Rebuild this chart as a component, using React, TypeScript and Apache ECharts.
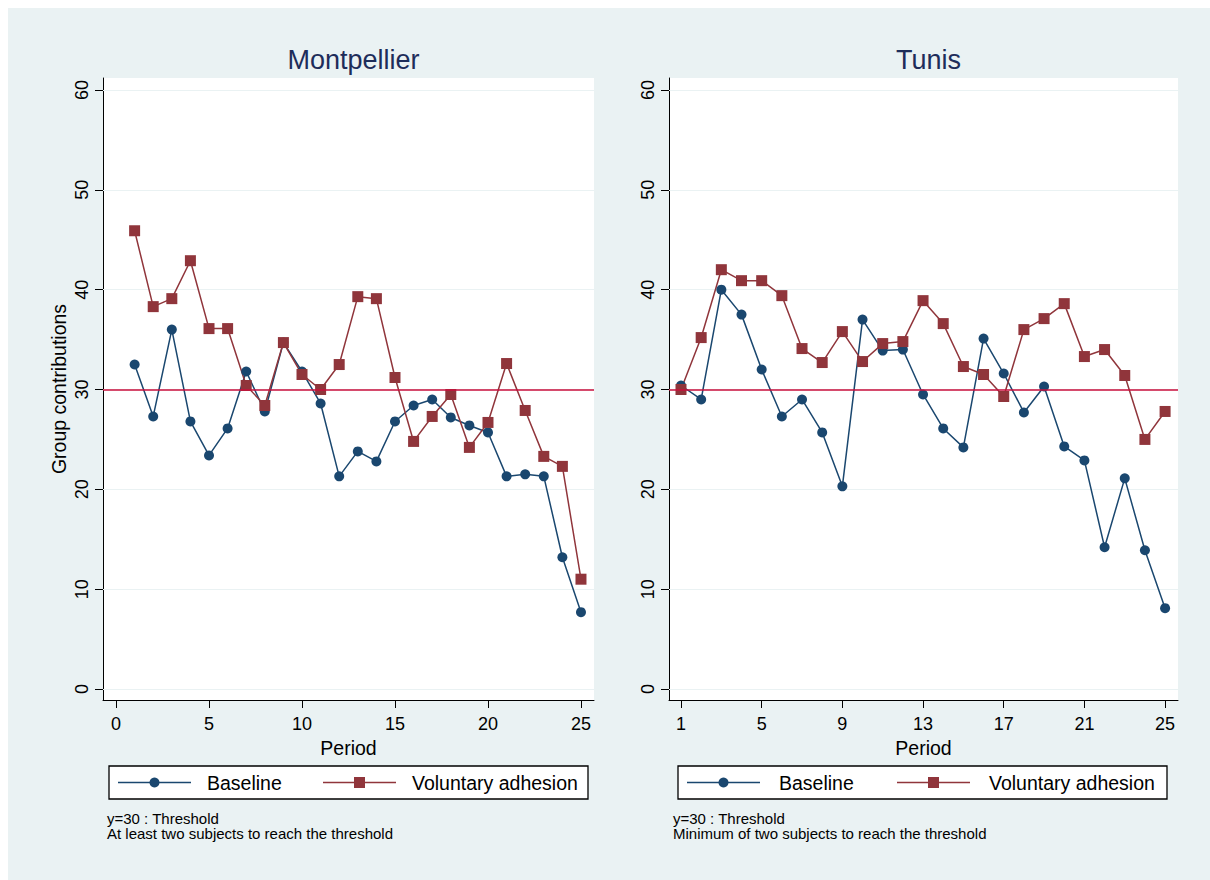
import React, { useEffect, useRef } from "react";
import * as echarts from "echarts";

const periods = [1, 2, 3, 4, 5, 6, 7, 8, 9, 10, 11, 12, 13, 14, 15, 16, 17, 18, 19, 20, 21, 22, 23, 24, 25];
const panelTitles = ["Montpellier", "Tunis"];
const seriesNames = ["Baseline", "Voluntary adhesion"];
const montBaseline = [32.5, 27.3, 36.0, 26.8, 23.4, 26.1, 31.8, 27.8, 34.7, 31.8, 28.6, 21.3, 23.8, 22.8, 26.8, 28.4, 29.0, 27.2, 26.4, 25.7, 21.3, 21.5, 21.3, 13.2, 7.7];
const montVoluntary = [45.9, 38.3, 39.1, 42.9, 36.1, 36.1, 30.4, 28.4, 34.7, 31.5, 30.0, 32.5, 39.3, 39.1, 31.2, 24.8, 27.3, 29.5, 24.2, 26.7, 32.6, 27.9, 23.3, 22.3, 11.0];
const tunisBaseline = [30.4, 29.0, 40.0, 37.5, 32.0, 27.3, 29.0, 25.7, 20.3, 37.0, 33.9, 34.0, 29.5, 26.1, 24.2, 35.1, 31.6, 27.7, 30.3, 24.3, 22.9, 14.2, 21.1, 13.9, 8.1];
const tunisVoluntary = [30.0, 35.2, 42.0, 40.9, 40.9, 39.4, 34.1, 32.7, 35.8, 32.8, 34.6, 34.8, 38.9, 36.6, 32.3, 31.5, 29.3, 36.0, 37.1, 38.6, 33.3, 34.0, 31.4, 25.0, 27.8];
const yTicks = [0, 10, 20, 30, 40, 50, 60];
const xTicksLeft = [0, 5, 10, 15, 20, 25];
const xTicksRight = [1, 5, 9, 13, 17, 21, 25];
const threshold = 30;
const notesLeft = ["y=30 : Threshold", "At least two subjects to reach the threshold"];
const notesRight = ["y=30 : Threshold", "Minimum of two subjects to reach the threshold"];

const FONT = "Liberation Sans, Arial, Helvetica, sans-serif";
const BG = "#eaf2f3";
const BLUE = "#1a476f";
const RED = "#90353b";
const THRESH = "#c90f3c";

function pairs(vals: number[]) {
  return periods.map((p, i) => [p, vals[i]]);
}

function legendGraphic(x0: number, w: number, pos: number[]) {
  const yc = 774.5;
  return [
    { type: "rect", shape: { x: x0, y: 758, width: w, height: 33 }, style: { fill: "#ffffff", stroke: "#000000", lineWidth: 1.3 } },
    { type: "line", shape: { x1: pos[0], y1: yc, x2: pos[0] + 73, y2: yc }, style: { stroke: BLUE, lineWidth: 1.5 } },
    { type: "circle", shape: { cx: pos[0] + 36.5, cy: yc, r: 5 }, style: { fill: BLUE } },
    { type: "text", x: pos[1], y: yc, style: { text: seriesNames[0], font: `19.5px ${FONT}`, fill: "#000", verticalAlign: "middle", align: "left" } },
    { type: "line", shape: { x1: pos[2], y1: yc, x2: pos[2] + 73, y2: yc }, style: { stroke: RED, lineWidth: 1.5 } },
    { type: "rect", shape: { x: pos[2] + 36.5 - 5.5, y: yc - 5.5, width: 11, height: 11 }, style: { fill: RED } },
    { type: "text", x: pos[3], y: yc, style: { text: seriesNames[1], font: `19.5px ${FONT}`, fill: "#000", verticalAlign: "middle", align: "left" } },
  ];
}

function notesGraphic(x: number, lines: string[]) {
  return lines.map((t, i) => ({
    type: "text",
    x,
    y: 810 + i * 15,
    style: { text: t, font: `15px ${FONT}`, fill: "#000", verticalAlign: "middle", align: "left" },
  }));
}

export default function App() {
  const ref = useRef<HTMLDivElement>(null);
  useEffect(() => {
    if (!ref.current) return;
    const chart = echarts.init(ref.current, null, { renderer: "svg" });

    const yAxisBase = (gridIndex: number, withName: boolean) => ({
      type: "value",
      gridIndex,
      min: -1.1,
      max: 61.2,
      name: withName ? "Group contributions" : "",
      nameLocation: "middle",
      nameGap: 34,
      nameRotate: 90,
      nameTextStyle: { fontFamily: FONT, fontSize: 19.5, color: "#000" },
      axisLine: { show: true, onZero: false, lineStyle: { color: "#000", width: 1 } },
      axisTick: { show: true, length: 8, customValues: yTicks, lineStyle: { color: "#000", width: 1 } },
      axisLabel: { show: true, rotate: 90, margin: 12, customValues: yTicks, fontFamily: FONT, fontSize: 18, color: "#000" },
      splitLine: { show: false },
    });

    const xAxisBase = (gridIndex: number, min: number, max: number, ticks: number[]) => ({
      type: "value",
      gridIndex,
      min,
      max,
      name: "Period",
      nameLocation: "middle",
      nameGap: 33,
      nameTextStyle: { fontFamily: FONT, fontSize: 19.5, color: "#000" },
      axisLine: { show: true, onZero: false, lineStyle: { color: "#000", width: 1 } },
      axisTick: { show: true, length: 8, customValues: ticks, lineStyle: { color: "#000", width: 1 } },
      axisLabel: { show: true, margin: 15, customValues: ticks, fontFamily: FONT, fontSize: 18, color: "#000" },
      splitLine: { show: false },
    });

    const gridMarkLine = {
      silent: true,
      symbol: "none",
      label: { show: false },
      lineStyle: { color: BG, width: 1.2, type: "solid" },
      data: yTicks.map((v) => ({ yAxis: v })),
      z: 1,
    };
    const threshMarkLine = {
      silent: true,
      symbol: "none",
      label: { show: false },
      lineStyle: { color: THRESH, width: 1.5, type: "solid" },
      data: [{ yAxis: threshold }],
    };

    const lineSeries = (name: string, idx: number, vals: number[], color: string, symbol: string, size: number, markLine: any) => ({
      name,
      type: "line",
      xAxisIndex: idx,
      yAxisIndex: idx,
      data: pairs(vals),
      symbol,
      symbolSize: size,
      showAllSymbol: true,
      itemStyle: { color },
      lineStyle: { color, width: 1.5 },
      markLine,
      z: 3,
    });

    chart.setOption({
      animation: false,
      backgroundColor: BG,
      title: [
        { text: panelTitles[0], left: 340.5, top: 33, textAlign: "center", textStyle: { fontFamily: FONT, fontSize: 27, fontWeight: "normal", color: "#1e2d5a" } },
        { text: panelTitles[1], left: 915.5, top: 33, textAlign: "center", textStyle: { fontFamily: FONT, fontSize: 27, fontWeight: "normal", color: "#1e2d5a" } },
      ],
      grid: [
        { left: 95, top: 70, width: 491, height: 622, show: true, backgroundColor: "#ffffff", borderWidth: 0 },
        { left: 661, top: 70, width: 509, height: 622, show: true, backgroundColor: "#ffffff", borderWidth: 0 },
      ],
      xAxis: [xAxisBase(0, -0.7, 25.7, xTicksLeft), xAxisBase(1, 0.405, 25.64, xTicksRight)],
      yAxis: [yAxisBase(0, true), yAxisBase(1, false)],
      series: [
        lineSeries(seriesNames[0], 0, montBaseline, BLUE, "circle", 10, gridMarkLine),
        lineSeries(seriesNames[1], 0, montVoluntary, RED, "rect", 11, threshMarkLine),
        lineSeries(seriesNames[0], 1, tunisBaseline, BLUE, "circle", 10, gridMarkLine),
        lineSeries(seriesNames[1], 1, tunisVoluntary, RED, "rect", 11, threshMarkLine),
      ],
      graphic: [
        ...legendGraphic(101, 479, [110, 199, 315, 404]),
        ...legendGraphic(670, 489, [679, 771, 889, 981]),
        ...notesGraphic(99, notesLeft),
        ...notesGraphic(665, notesRight),
      ],
    });
    return () => chart.dispose();
  }, []);
  return <div ref={ref} style={{ position: "absolute", left: 8, top: 8, width: 1202, height: 872 }} />;
}
